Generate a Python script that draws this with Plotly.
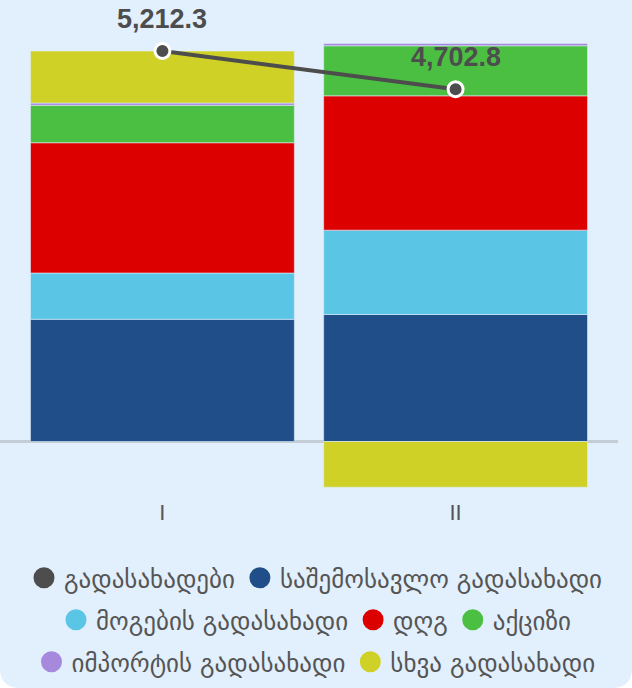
import plotly.graph_objects as go

categories = ["I", "II"]
income_tax = [1631, 1695]
profit_tax = [618, 1126]
vat = [1739, 1793]
excise = [499, 668]
import_tax = [31, 31]
other_tax = [694, -610]
totals = [5212.3, 4702.8]

names = {
    "total": "გადასახადები",
    "income": "საშემოსავლო გადასახადი",
    "profit": "მოგების გადასახადი",
    "vat": "დღგ",
    "excise": "აქციზი",
    "import": "იმპორტის გადასახადი",
    "other": "სხვა გადასახადი",
}
colors = {
    "total": "#4d4d4d",
    "income": "#1f4e89",
    "profit": "#5bc5e5",
    "vat": "#dd0000",
    "excise": "#4bbf41",
    "import": "#a689dd",
    "other": "#cfd126",
}

W, H = 632, 688
ML, MR, MT, MB = 0, 14, 0, 193
pw, ph = W - ML - MR, H - MT - MB

fig = go.Figure()

series = [("income", income_tax), ("profit", profit_tax), ("vat", vat),
          ("excise", excise), ("import", import_tax), ("other", other_tax)]
for key, vals in series:
    fig.add_trace(go.Bar(
        x=categories, y=vals, name=names[key], showlegend=False,
        marker=dict(color=colors[key], line=dict(width=0.8, color="rgba(226,239,252,0.7)")),
        hoverinfo="skip"))

fig.add_trace(go.Scatter(
    x=categories, y=totals, mode="lines+markers", showlegend=False,
    line=dict(color=colors["total"], width=4),
    marker=dict(size=15, color=colors["total"], line=dict(color="white", width=3)),
))

# legend entries
legend_rows = [["total", "income"], ["profit", "vat", "excise"], ["import", "other"]]
legend_ids = ["legend", "legend2", "legend3"]
for row, lid in zip(legend_rows, legend_ids):
    for key in row:
        fig.add_trace(go.Scatter(
            x=[None], y=[None], mode="markers", name=names[key], legend=lid,
            marker=dict(size=16, color=colors[key], line=dict(color=colors[key], width=5)),
        ))

for c, t in zip(categories, totals):
    fig.add_annotation(x=c, y=t, text="<b>{:,.1f}</b>".format(t), showarrow=False,
                       yshift=32, font=dict(family="Liberation Sans", size=27, color="#4d4d4d"))

# card background
X0, X1 = -ML / pw, (W - ML) / pw
Y0, Y1 = -MB / ph, 1 + MT / ph
rx, ry = 20 / pw, 20 / ph
path = (f"M {X0},{Y1} L {X1},{Y1} L {X1},{Y0+ry} Q {X1},{Y0} {X1-rx},{Y0} "
        f"L {X0+rx},{Y0} Q {X0},{Y0} {X0},{Y0+ry} Z")
fig.add_shape(type="path", path=path, xref="paper", yref="paper",
              fillcolor="#e2effc", line=dict(width=0), layer="below")

legfont = dict(family="DejaVu Sans", size=25, color="#555555")
row_y = [578, 620, 662]
cx = (316 - ML) / pw
leg_common = dict(orientation="h", x=cx, xanchor="center", yanchor="middle",
                  bgcolor="rgba(0,0,0,0)", font=legfont, itemclick=False)
fig.update_layout(
    width=W, height=H,
    margin=dict(l=ML, r=MR, t=MT, b=MB, pad=0),
    paper_bgcolor="white", plot_bgcolor="rgba(0,0,0,0)",
    barmode="relative", bargap=0.1,
    legend=dict(y=(ph - row_y[0]) / ph, **leg_common),
    legend2=dict(y=(ph - row_y[1]) / ph, **leg_common),
    legend3=dict(y=(ph - row_y[2]) / ph, **leg_common),
    xaxis=dict(range=[-0.554, 1.554], showgrid=False, showline=False, zeroline=False,
               tickfont=dict(family="Liberation Sans", size=22, color="#555555"), ticks="",
               ticklabelstandoff=2),
    yaxis=dict(range=[-714, 5893], showgrid=False, showticklabels=False, zeroline=True,
               zerolinecolor="#c4ccd6", zerolinewidth=3, showline=False),
    showlegend=True,
)

fig.write_html("out.html", config={"displayModeBar": False},
               post_script="document.body.style.margin='0';document.body.style.background='white';")
